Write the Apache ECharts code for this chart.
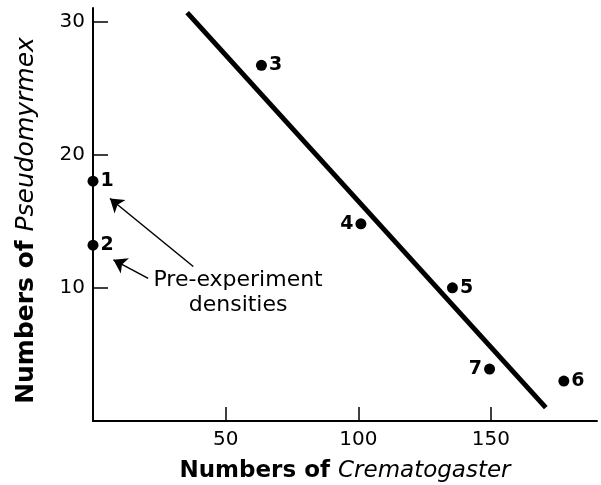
<!DOCTYPE html>
<html><head><meta charset="utf-8">
<script src="https://cdn.jsdelivr.net/npm/echarts@6/dist/echarts.min.js"></script>
<style>html,body{margin:0;padding:0;background:#fff}#c{width:601px;height:485px}</style>
</head><body><div id="c"></div>
<script>
// Data
const pointLabels = ['1','2','3','4','5','6','7'];
const crematogaster = [0, 0, 63.5, 101, 135.5, 177.5, 149.5];
const pseudomyrmex = [18, 13.2, 26.7, 14.8, 10, 3.0, 3.9];
const labelSide = ['right','right','right','left','right','right','left'];
const fitLineX = [35.5, 170.7];
const fitLineY = [30.65, 1.0];
const arrowTails = [[37.8, 11.6], [20.8, 10.7]];
const arrowHeads = [[6.4, 16.7], [7.7, 12.1]];
const noteText = ['Pre-experiment', 'densities'];
const notePos = [54.7, 9.6];
const xTicks = [50, 100, 150];
const yTicks = [10, 20, 30];

const FONT = '"DejaVu Sans", "Liberation Sans", sans-serif';
const chart = echarts.init(document.getElementById('c'));

const pts = crematogaster.map((x, i) => ({
  value: [x, pseudomyrmex[i]],
  name: pointLabels[i],
  label: { position: labelSide[i] }
}));

const richFor = size => ({
  b: { fontFamily: FONT, fontSize: size, fontWeight: 'bold', color: '#000' },
  i: { fontFamily: FONT, fontSize: size, fontStyle: 'italic', color: '#000' }
});

chart.setOption({
  animation: false,
  grid: { left: 93, right: 4, top: 8, bottom: 64, containLabel: false, outerBoundsMode: 'none' },
  xAxis: {
    type: 'value', min: 0, max: 190, interval: 50,
    splitLine: { show: false },
    axisLine: { onZero: false, lineStyle: { color: '#000', width: 2 } },
    axisTick: { inside: true, length: 14, customValues: xTicks, lineStyle: { color: '#000', width: 1.5 } },
    axisLabel: { color: '#000', fontFamily: FONT, fontSize: 20, margin: 9, customValues: xTicks },
    name: '{b|Numbers of }{i|Crematogaster}',
    nameLocation: 'middle', nameGap: 39,
    nameTextStyle: { rich: richFor(23) }
  },
  yAxis: {
    type: 'value', min: 0, max: 31, interval: 10,
    splitLine: { show: false },
    axisLine: { onZero: false, lineStyle: { color: '#000', width: 2 } },
    axisTick: { inside: true, length: 15, customValues: yTicks, lineStyle: { color: '#000', width: 1.5 } },
    axisLabel: { color: '#000', fontFamily: FONT, fontSize: 20, margin: 8, customValues: yTicks },
    name: '{b|Numbers of }{i|Pseudomyrmex}',
    nameLocation: 'middle', nameGap: 54,
    nameTextStyle: { rich: richFor(25), padding: [0, 12, 0, 0] }
  },
  series: [
    {
      type: 'line',
      data: fitLineX.map((x, i) => [x, fitLineY[i]]),
      showSymbol: false, symbol: 'none',
      lineStyle: { color: '#000', width: 5 },
      z: 2
    },
    {
      type: 'scatter',
      data: pts,
      symbolSize: 11,
      itemStyle: { color: '#000', opacity: 1 },
      label: { show: true, formatter: p => p.name, color: '#000', fontFamily: FONT,
        fontSize: 19, fontWeight: 'bold', distance: 2 },
      z: 3
    },
    {
      type: 'lines',
      coordinateSystem: 'cartesian2d',
      data: arrowTails.map((t, i) => ({ coords: [t, arrowHeads[i]] })),
      symbol: ['none', 'arrow'],
      symbolSize: 13,
      lineStyle: { color: '#000', width: 1.5, opacity: 1 },
      z: 3
    },
    {
      type: 'scatter',
      data: [notePos],
      symbolSize: 0,
      silent: true,
      itemStyle: { opacity: 1 },
      label: { show: true, position: 'inside', formatter: noteText.join('\n'),
        color: '#000', fontFamily: FONT, fontSize: 22, lineHeight: 25, align: 'center' }
    }
  ]
});
</script>
</body></html>
